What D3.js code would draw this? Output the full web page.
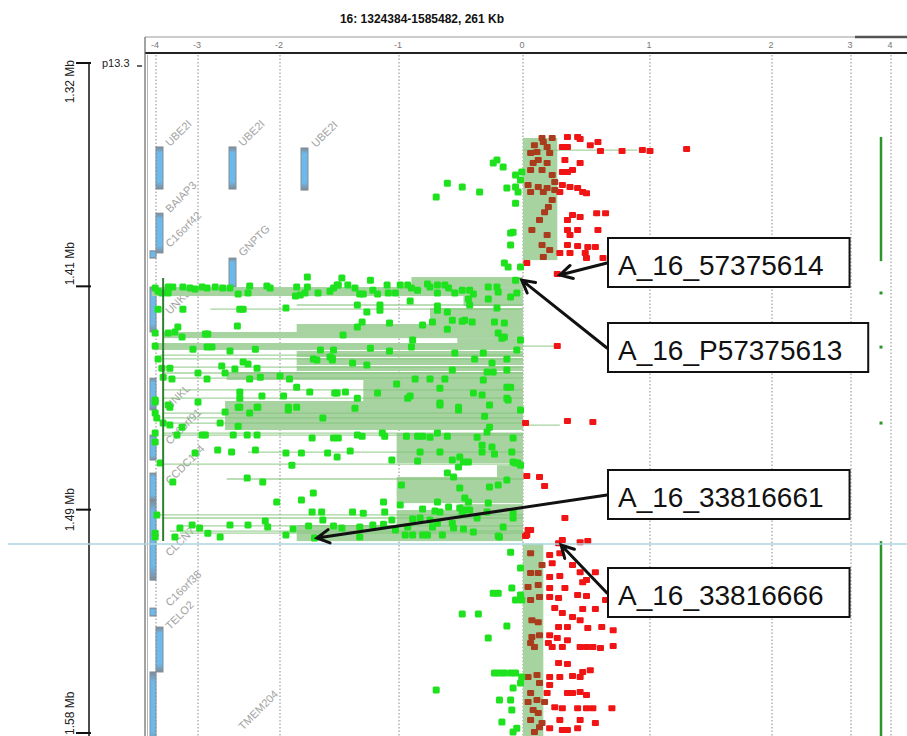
<!DOCTYPE html>
<html>
<head>
<meta charset="utf-8">
<script src="https://cdn.jsdelivr.net/npm/d3@7"></script>
<style>
  body { margin: 0; background: #fff; }
  svg { display: block; font-family: "Liberation Sans", Arial, sans-serif; }
</style>
</head>
<body>
<svg id="chart" width="907" height="736"></svg>
<script>
var title = "16: 1324384-1585482, 261 Kb"
var xTicks = [-4, -3, -2, -1, 0, 1, 2, 3, 4]
var yTickKb = [1324.384, 1411.417, 1498.449, 1585.482]
var yTickLabels = ["1.32 Mb", "1.41 Mb", "1.49 Mb", "1.58 Mb"]
var band = "p13.3"

// probes: [position kb, log ratio]
var probesTop = [
  [1353.6,0.15],[1353.6,0.23],[1353.2,0.35],[1353.2,0.43],[1354.0,0.45],[1356.4,0.53],[1355.2,0.59],
  [1358.7,0.61],[1358.7,0.78],[1358.3,0.94],[1358.7,1.00],[1357.9,1.30],[1357.1,0.31],[1357.1,0.35],
  [1362.2,0.33],[1363.4,0.45],[1366.1,0.39],[1366.9,0.35],[1366.9,0.31],[1371.9,0.31],[1372.7,0.37],
  [1373.1,0.43],[1374.7,0.47],[1375.1,0.50],[1374.7,0.29],[1383.6,0.39],[1384.4,0.45],[1382.9,0.58],
  [1382.9,0.65],[1385.6,0.35],[1389.5,0.35],[1389.5,0.43],[1389.5,0.59],[1391.4,0.37],[1395.3,0.35],
  [1395.7,0.43],[1398.4,0.29],[1398.4,0.37],[1396.1,0.51],[1396.1,0.57],[1398.4,0.49],[1400.4,0.50],
  [1400.4,0.63],[1402.3,0.03],[1406.6,0.27],
  [1355.2,0.16],[1357.1,0.19],[1359.5,0.06],[1359.1,0.11],[1359.5,0.21],[1363.4,0.08],[1363.4,0.19],
  [1366.1,0.06],[1366.1,0.15],[1368.0,0.23],[1371.9,0.04],[1372.7,0.12],[1373.1,0.19],[1373.9,0.25],
  [1374.7,0.06],[1374.7,0.16],[1380.5,0.20],[1382.5,0.17],[1385.6,0.13],[1391.4,0.19],[1395.3,0.15],
  [1397.3,0.21],[1400.0,0.16],[1356.4,0.09],[1377.8,0.23],[1389.5,0.07],[1362.2,0.12],[1370.8,0.25],
  [1363.4,-0.24],[1364.9,-0.16],[1366.9,-0.01],[1368.0,-0.06],[1370.0,-0.02],[1374.7,-0.35],[1373.1,-0.13],
  [1372.7,-0.06],[1374.7,-0.04],[1379.0,-0.06],[1390.6,-0.10],[1390.3,-0.08],[1395.3,-0.10],[1402.3,-0.15],
  [1403.9,-0.12],[1403.9,-0.02],[1371.2,-0.61],[1372.7,-0.49],[1376.6,-0.70],[1362.2,-0.21]
]

var probesLoss = [
  [1412.1,-4.02],[1413.3,-3.95],[1414.0,-3.86],[1411.7,-3.71],[1411.7,-3.60],[1411.7,-3.36],[1412.1,-3.19],
  [1412.5,-3.07],[1411.7,-2.95],[1412.1,-2.89],[1411.7,-2.79],[1412.1,-2.70],[1412.1,-2.61],[1411.3,-2.37],
  [1411.3,-2.16],[1412.1,-2.12],[1411.7,-1.86],[1411.7,-1.77],[1412.1,-1.55],[1410.9,-1.51],[1414.0,-3.71],
  [1414.4,-2.51],[1414.0,-2.39],[1415.2,-1.87],[1414.8,-1.83],[1414.0,-1.79],[1414.0,-1.68],[1413.3,-1.58],
  [1407.8,-1.77],[1420.3,-3.95],[1420.3,-3.36],[1420.3,-2.49],[1420.3,-2.45],[1419.9,-1.95],[1426.9,-2.52],
  [1427.3,-3.48],[1429.6,-4.02],[1429.6,-3.71],[1429.2,-3.55],[1431.2,-3.38],[1430.0,-2.91],[1430.0,-2.88],
  [1434.7,-4.02],[1435.9,-3.12],[1435.1,-2.89],[1435.1,-2.83],[1436.6,-2.61],[1435.9,-2.30],[1436.2,-1.66],
  [1436.2,-1.55],[1439.7,-1.72],[1440.1,-1.69],[1439.0,-1.58],[1440.1,-1.56],[1439.7,-3.95],[1442.5,-2.71],
  [1443.6,-2.55],[1440.9,-2.45],[1441.7,-2.39],[1443.3,-2.28],[1443.3,-3.86],[1443.3,-3.67],[1446.8,-3.83],
  [1447.5,-3.62],[1445.2,-3.00],[1447.5,-2.89],[1445.2,-2.67],[1447.5,-2.37],[1446.8,-2.24],[1446.4,-2.00],
  [1447.5,-1.92],[1450.7,-1.86],[1456.5,-4.02],[1458.5,-3.67],[1456.5,-3.00],[1452.6,-2.49],[1455.0,-2.49],
  [1454.2,-2.22],[1454.2,-1.97],[1452.6,-1.75],[1453.0,-1.54],[1458.5,-2.51],[1458.5,-2.28],[1458.5,-1.93],
  [1458.5,-1.86],
  [1408.2,-1.48],[1410.9,-1.52],[1410.9,-1.43],[1412.1,-1.37],[1414.4,-1.33],[1414.4,-1.30],[1409.0,-1.24],
  [1412.9,-1.22],[1414.4,-1.18],[1410.9,-1.10],[1414.0,-1.09],[1414.0,-1.03],[1410.9,-0.99],[1410.9,-0.93],
  [1412.1,-0.90],[1412.9,-0.85],[1410.5,-0.77],[1411.7,-0.75],[1410.9,-0.69],[1410.9,-0.63],[1412.1,-0.60],
  [1414.0,-0.69],[1414.0,-0.55],[1412.9,-0.49],[1412.9,-0.43],[1414.4,-0.40],[1411.7,-0.28],[1411.7,-0.21],
  [1413.6,-0.20],[1415.6,-0.10],[1414.0,-0.05],[1409.0,-0.06],[1417.1,-0.91],[1416.4,-0.44],[1418.7,-0.43],
  [1416.4,-0.28],[1418.7,-1.35],[1421.4,-1.27],[1418.7,-1.16],[1420.7,-1.16],[1419.1,-0.69],[1420.7,-0.69],
  [1421.4,-0.61],[1425.3,-1.31],[1425.7,-1.08],[1426.5,-0.81],[1425.3,-0.73],[1424.6,-0.57],[1425.0,-0.49],
  [1424.6,-0.47],[1425.3,-0.41],[1425.3,-0.23],[1425.7,-0.15],[1427.3,-1.35],[1428.1,-0.61],[1430.4,-1.47],
  [1432.3,-0.89],[1435.1,-0.90],[1429.6,-0.20],[1431.6,-0.17],[1431.2,-0.15],[1439.4,-1.56],[1435.5,-1.24],
  [1436.6,-1.08],[1437.4,-0.55],[1437.4,-0.32],[1439.7,-0.39],[1441.3,-0.25],[1439.7,-0.13],[1441.3,-1.39],
  [1442.1,-1.27],[1444.0,-0.57],[1444.8,-0.29],[1444.8,-0.24],[1444.0,-0.13],[1447.5,-0.87],[1447.5,-0.75],
  [1447.5,-0.63],[1447.9,-0.32],[1449.5,-1.02],[1451.1,-0.67],[1453.0,-0.40],[1453.8,-0.33],[1450.7,-0.13],
  [1453.0,-1.52],[1452.6,-1.45],[1453.0,-1.18],[1454.2,-0.91],[1455.0,-0.93],[1455.0,-1.35],[1456.9,-0.67],
  [1458.5,-0.52],[1457.7,-0.27],[1455.7,-0.12],
  [1455.7,-4.02],[1457.7,-3.71],[1460.8,-4.02],[1462.7,-3.98],[1464.7,-3.83],[1465.5,-3.67],[1466.3,-3.38],
  [1468.6,-4.02],[1469.4,-3.50],[1469.4,-2.95],[1469.4,-2.91],[1469.4,-2.57],[1469.4,-2.40],[1469.4,-2.28],
  [1458.5,-2.49],[1460.8,-2.37],[1458.5,-2.27],[1465.9,-2.51],[1464.7,-2.73],[1460.4,-2.67],[1459.6,-1.93],
  [1462.7,-1.64],[1470.5,-1.73],[1470.5,-1.55],[1472.1,-4.02],[1476.4,-3.07],[1475.2,-2.76],[1476.0,-2.59],
  [1475.2,-2.30],[1476.4,-1.95],[1476.4,-1.82],[1476.4,-1.60],[1480.3,-3.90],[1481.1,-1.90],[1487.7,-3.60],
  [1486.1,-2.40],[1487.7,-2.21],[1492.0,-1.72],[1494.7,-1.82],[1495.5,-2.04],[1500.5,-3.98],[1499.4,-1.65],
  [1499.4,-1.73],[1502.5,-1.64],[1502.9,-2.18],[1504.4,-2.61],[1504.4,-2.39],[1505.2,-2.15],[1505.6,-3.43],
  [1504.4,-3.14],[1505.6,-2.98],[1506.0,-1.89],[1504.8,-1.76],[1507.6,-4.02],[1509.1,-4.02],[1509.1,-3.55],
  [1507.6,-2.88],[1509.1,-2.73],[1508.3,-1.95],[1509.5,-1.71],
  [1458.9,-1.37],[1457.7,-0.67],[1459.6,-0.52],[1462.0,-0.31],[1466.3,-0.27],[1468.2,-0.29],[1469.4,-1.35],
  [1469.8,-1.31],[1470.5,-1.51],[1468.6,-1.14],[1469.8,-1.12],[1469.8,-0.94],[1469.8,-0.85],[1469.8,-0.81],
  [1470.2,-0.75],[1468.6,-0.69],[1469.8,-0.61],[1470.2,-0.37],[1470.5,-0.08],[1473.3,-0.33],[1474.0,-0.25],
  [1475.6,-1.41],[1476.0,-0.83],[1476.0,-0.67],[1476.0,-0.33],[1476.0,-0.09],[1476.8,-0.23],[1477.9,-1.52],
  [1479.1,-1.06],[1479.5,-0.85],[1477.9,-0.51],[1479.9,-0.48],[1479.9,-0.44],[1479.1,-0.57],[1481.8,-0.52],
  [1479.9,-0.08],[1480.3,-0.04],[1484.2,-0.61],[1485.7,-0.56],[1488.8,-0.98],[1490.0,-0.51],[1489.6,-0.27],
  [1486.9,-0.13],[1493.9,-0.47],[1495.5,-0.44],[1495.9,-0.28],[1495.5,-0.69],[1495.5,-1.13],[1496.6,-0.99],
  [1499.4,-1.39],[1499.8,-1.30],[1499.4,-1.12],[1498.2,-0.81],[1499.0,-0.71],[1497.4,-0.60],[1497.8,-0.51],
  [1499.4,-0.49],[1498.6,-0.47],[1498.6,-0.43],[1499.4,-0.67],[1502.1,-0.89],[1502.5,-1.06],[1501.7,-0.83],
  [1502.5,-0.75],[1503.7,-0.69],[1503.7,-0.57],[1501.7,-0.37],[1499.4,-0.08],[1499.4,-0.29],[1504.8,-1.55],
  [1505.6,-1.48],[1505.2,-1.33],[1504.4,-1.22],[1504.1,-1.13],[1506.4,-1.03],[1508.3,-0.95],[1508.3,-0.89],
  [1508.3,-0.81],[1508.3,-0.77],[1508.3,-0.65],[1506.0,-0.48],[1507.2,-0.40],[1509.1,-0.19],[1505.2,-0.16],
  [1509.1,-1.33],[1505.2,-0.93],[1505.2,-0.73],[1505.6,-0.56],
  [1419.9,-0.21],[1455.0,-0.13],[1450.7,-0.10],[1480.3,-0.06],[1481.1,-0.02],[1488.8,-0.20],[1501.7,-0.08],
  [1436.2,-0.05],[1432.3,-0.02],[1459.6,-0.02],
  [1434.7,0.27],[1463.9,0.35],[1464.3,0.55],[1464.7,0.02],[1485.3,0.03],[1485.7,0.13],[1489.2,0.17],
  [1501.7,0.33],[1506.4,0.04],[1508.7,0.02]
]

var probesBottom = [
  [1508.7,-0.20],[1515.0,-0.10],[1521.2,-0.02],[1531.0,-0.24],[1531.0,-0.20],[1529.0,-0.09],[1533.7,-0.06],
  [1531.7,-0.02],[1533.7,-0.01],[1543.8,-0.13],[1548.5,-0.28],[1562.1,-0.23],[1562.1,-0.19],[1562.1,-0.15],
  [1562.1,-0.10],[1562.1,-0.06],[1563.7,-0.01],[1567.9,-0.08],[1566.0,-0.02],[1572.6,-0.19],[1572.6,-0.10],
  [1576.5,-0.09],[1581.2,-0.17],[1585.1,-0.08],[1583.6,-0.05],[1568.7,-0.70],[1539.1,-0.36],[1539.1,-0.49],
  [1506.4,0.06],[1508.3,0.03],[1510.3,0.31],[1511.5,0.28],[1511.1,0.45],[1510.7,0.51],[1515.4,0.06],
  [1516.1,0.21],[1515.4,0.29],[1520.0,0.15],[1519.3,0.23],[1520.0,0.39],[1522.8,0.45],[1522.8,0.57],
  [1523.1,0.06],[1523.1,0.12],[1524.7,0.21],[1524.3,0.29],[1526.7,0.47],[1525.9,0.50],[1528.6,0.04],
  [1527.8,0.12],[1529.0,0.21],[1529.0,0.33],[1532.5,0.13],[1532.5,0.21],[1532.9,0.28],[1531.7,0.43],
  [1532.1,0.50],[1533.7,0.65],[1533.7,0.06],[1536.8,0.25],[1538.7,0.31],[1540.3,0.39],[1537.2,0.47],
  [1537.2,0.57],[1541.5,0.45],[1541.5,0.07],[1542.3,0.12],[1544.2,0.28],[1544.2,0.35],[1544.6,0.51],
  [1544.2,0.62],[1545.4,0.71],[1548.1,0.07],[1547.4,0.13],[1547.4,0.21],[1548.5,0.27],[1549.3,0.35],
  [1550.4,0.20],[1550.4,0.06],[1552.0,0.09],[1552.0,0.23],[1552.0,0.31],[1552.0,0.45],[1552.0,0.50],
  [1552.0,0.55],[1552.4,0.61],[1551.6,0.71],[1558.2,0.28],[1558.6,0.35],[1561.7,0.47],[1561.0,0.53],
  [1563.7,0.21],[1563.7,0.29],[1563.3,0.39],[1563.7,0.45],[1563.7,0.04],[1562.9,0.11],[1566.0,0.13],
  [1566.8,0.21],[1569.9,0.35],[1569.9,0.39],[1569.5,0.45],[1570.7,0.50],[1569.9,0.19],[1569.9,0.06],
  [1572.6,0.11],[1573.4,0.04],[1573.4,0.17],[1575.4,0.25],[1575.8,0.31],[1575.8,0.43],[1575.8,0.50],
  [1575.8,0.55],[1575.8,0.70],[1576.5,0.08],[1577.7,0.12],[1580.4,0.06],[1581.6,0.15],[1580.4,0.29],
  [1580.4,0.45],[1581.6,0.57],[1583.6,0.21],[1584.3,0.31],[1584.3,0.35],[1583.6,0.43],[1585.1,0.09],
  [1583.2,0.13]
]

// aberration segments: [start kb, end kb, mean ratio]
var segments = [
  [1353.6,1401.2,0.27],[1511.8,1590,0.16],
  [1407.8,1411.7,-0.90],[1411.7,1415.2,-4.10],[1415.2,1419.1,-0.48],[1419.9,1426.1,-0.75],
  [1426.1,1429.2,-1.86],[1429.2,1431.6,-3.83],[1431.6,1433.5,-0.53],[1433.5,1436.2,-4.07],
  [1436.6,1439.0,-1.86],[1439.4,1442.1,-1.86],[1442.5,1444.4,-1.86],[1444.8,1447.9,-2.65],
  [1447.9,1456.1,-1.30],[1456.1,1467.4,-2.67],[1468.6,1480.3,-1.02],[1481.1,1485.7,-0.21],
  [1485.7,1495.9,-1.02],[1496.3,1498.6,-0.51],[1498.6,1504.4,-1.02],[1504.4,1510.7,-1.86]
]
// single probe intervals drawn as thin lines: [kb, ratio]
var segmentLines = [
  [1358.3,0.90],[1434.7,0.29],[1465.5,0.29],
  [1418.7,-1.86],[1420.3,-2.85],[1438.2,-3.90],[1439.7,-3.90],[1442.9,-3.90],[1445.2,-3.83],
  [1447.2,-3.83],[1451.8,-3.83],[1455.0,-3.83],[1460.8,-3.83],[1462.7,-3.83],[1464.7,-3.83],
  [1468.6,-3.83],[1469.4,-3.83],[1476.0,-2.39],[1480.7,-3.98],[1486.5,-2.65],[1500.5,-3.98],
  [1501.7,-3.83],[1504.8,-3.36],[1506.8,-3.67],[1507.6,-3.43]
]
var lossEdge = [1408.2, 1510.7, -3.83]

// summary track at the right: spans and single calls (kb)
var callSpans = [[1353.2, 1401.6], [1510.7, 1590]]
var callDots = [1414.0, 1435.1, 1464.7]

// genes: [name, start kb, end kb, lane]
var genes = [
  ["UBE2I",1357.1,1373.5,1],["UBE2I",1357.1,1373.5,2],["UBE2I",1357.5,1373.9,3],
  ["BAIAP3",1382.9,1398.4,1],["C16orf42",1397.6,1400.4,0],["GNPTG",1400.4,1412.5,2],
  ["UNKL",1411.7,1429.2,0],["UNKL",1447.2,1459.6,0],["C16orf91",1469.4,1479.1,0],
  ["CCDC154",1484.2,1494.7,0],["CLCN7",1494.7,1525.9,0],["C16orf38",1536.8,1539.9,0],
  ["TELO2",1544.2,1561.7,1],["TMEM204",1561.7,1590,0]
]
// gene labels: [name, kb, column]
var geneLabels = [
  ["UBE2I",1357.1,1],["UBE2I",1357.1,2],["UBE2I",1357.5,3],["BAIAP3",1382.9,1],
  ["C16orf42",1396.5,1],["GNPTG",1400.0,2],["UNKL",1422.6,1],["UNKL",1459.6,1],
  ["C16orf91",1473.3,1],["CCDC154",1488.8,1],["CLCN7",1516.9,1],["C16orf38",1536.4,1],
  ["TELO2",1545.4,1],["TMEM204",1584.6,2]
]

var callouts = [
  {id: "A_16_57375614", kb: 1407.0, ratio: 0.29, top: 238},
  {id: "A_16_P57375613", kb: 1409.0, ratio: -0.01, top: 323},
  {id: "A_16_33816661", kb: 1509.5, ratio: -1.69, top: 470},
  {id: "A_16_33816666", kb: 1512.2, ratio: 0.30, top: 568}
]

var svg = d3.select("#chart")
var frameLeft = 145, frameRight = 907, plotTop = 55, plotBottom = 736

var x = d3.scaleLinear().domain(xTicks).range([156, 198, 280, 399, 523, 650, 772, 851, 891])
var y = d3.scaleLinear().domain([yTickKb[0], yTickKb[3]]).range([63, 733])
var laneX = d3.scaleOrdinal().domain([0, 1, 2, 3]).range([150, 156, 229, 301])
var labelX = d3.scaleOrdinal().domain([0, 1, 2, 3]).range([170, 170, 243, 316])

var defs = svg.append("defs")
var grad = defs.append("linearGradient").attr("id", "gene").attr("x1", 0).attr("x2", 0).attr("y1", 0).attr("y2", 1)
grad.append("stop").attr("offset", "0%").attr("stop-color", "#7f8b96")
grad.append("stop").attr("offset", "14%").attr("stop-color", "#6cb9ec")
grad.append("stop").attr("offset", "82%").attr("stop-color", "#6cb9ec")
grad.append("stop").attr("offset", "100%").attr("stop-color", "#7f8b96")
defs.append("clipPath").attr("id", "plot").append("rect")
  .attr("x", frameLeft + 2).attr("y", plotTop).attr("width", frameRight - frameLeft).attr("height", plotBottom - plotTop)

// title
svg.append("text").attr("x", 422).attr("y", 23).attr("text-anchor", "middle")
  .style("font-size", "12px").style("font-weight", "bold").attr("fill", "#111").text(title)

// header lines and tick labels
svg.append("line").attr("x1", frameLeft).attr("x2", frameRight).attr("y1", 37).attr("y2", 37)
  .attr("stroke", "#999").attr("stroke-width", 1)
svg.append("line").attr("x1", 855).attr("x2", frameRight).attr("y1", 37).attr("y2", 37)
  .attr("stroke", "#555").attr("stroke-width", 2.5)
svg.append("line").attr("x1", frameLeft).attr("x2", frameRight).attr("y1", 53).attr("y2", 53)
  .attr("stroke", "#222").attr("stroke-width", 2)
svg.selectAll(".xlab").data(xTicks).enter().append("text")
  .attr("x", function(d) { return x(d) - 1 }).attr("y", 48).attr("text-anchor", "middle")
  .style("font-size", "9px").attr("fill", "#777").text(function(d) { return d })

// dotted grid
svg.selectAll(".grid").data(xTicks).enter().append("line")
  .attr("x1", function(d) { return x(d) }).attr("x2", function(d) { return x(d) })
  .attr("y1", plotTop).attr("y2", plotBottom)
  .attr("stroke", "#8a8a8a").attr("stroke-width", 1).attr("stroke-dasharray", "1.5,2")

var plot = svg.append("g").attr("clip-path", "url(#plot)")

// genes
plot.selectAll(".gene").data(genes).enter().append("rect")
  .attr("x", function(d) { return laneX(d[3]) })
  .attr("y", function(d) { return y(d[1]) })
  .attr("width", function(d) { return d[3] === 0 ? 6 : 7 })
  .attr("height", function(d) { return y(d[2]) - y(d[1]) })
  .attr("fill", "url(#gene)").attr("stroke", "#858d95").attr("stroke-width", 1)
plot.selectAll(".glab").data(geneLabels).enter().append("text")
  .attr("transform", function(d) { return "translate(" + labelX(d[2]) + "," + y(d[1]) + ") rotate(-45)" })
  .style("font-size", "11px").attr("fill", "#a2a2a2").text(function(d) { return d[0] })

var probes = probesTop.concat(probesLoss, probesBottom)
var gains = probes.filter(function(d) { return d[1] > 0 })
var losses = probes.filter(function(d) { return d[1] <= 0 })

// a gain probe that falls inside a called gain segment is drawn darker
function inGainCall(d) {
  return segments.some(function(s) { return s[2] > 0 && d[0] >= s[0] && d[0] <= s[1] && d[1] <= s[2] + 0.01 })
}

// segments
plot.selectAll(".seg").data(segments).enter().append("rect")
  .attr("x", function(d) { return Math.min(x(0), x(d[2])) })
  .attr("width", function(d) { return Math.abs(x(d[2]) - x(0)) })
  .attr("y", function(d) { return y(d[0]) })
  .attr("height", function(d) { return y(d[1]) - y(d[0]) })
  .attr("fill", "#a6d3a0")
plot.selectAll(".segline").data(segmentLines).enter().append("line")
  .attr("x1", x(0)).attr("x2", function(d) { return x(d[1]) })
  .attr("y1", function(d) { return y(d[0]) }).attr("y2", function(d) { return y(d[0]) })
  .attr("stroke", "#86c47e").attr("stroke-opacity", 0.75).attr("stroke-width", 1.3)

// red probes
plot.selectAll(".gain").data(gains).enter().append("rect")
  .attr("x", function(d) { return x(d[1]) - 3.5 }).attr("y", function(d) { return y(d[0]) - 3 })
  .attr("width", 7).attr("height", 6).attr("rx", 1)
  .attr("fill", function(d) { return inGainCall(d) ? "#a83c1c" : "#f01414" })

// green probes
plot.selectAll(".loss").data(losses).enter().append("rect")
  .attr("x", function(d) { return x(d[1]) - 3.5 }).attr("y", function(d) { return y(d[0]) - 3.5 })
  .attr("width", 7).attr("height", 7).attr("rx", 1.5).attr("fill", "#1ee21e")

plot.append("line").attr("x1", x(lossEdge[2])).attr("x2", x(lossEdge[2]))
  .attr("y1", y(lossEdge[0])).attr("y2", y(lossEdge[1]))
  .attr("stroke", "#2f7f2f").attr("stroke-width", 2)

// right summary track
var trackX = x(3.75)
plot.selectAll(".span").data(callSpans).enter().append("line")
  .attr("x1", trackX).attr("x2", trackX)
  .attr("y1", function(d) { return y(d[0]) }).attr("y2", function(d) { return y(d[1]) })
  .attr("stroke", "#2a962a").attr("stroke-width", 2.5)
plot.selectAll(".cdot").data(callDots).enter().append("rect")
  .attr("x", trackX - 1.5).attr("y", function(d) { return y(d) - 1.5 })
  .attr("width", 3).attr("height", 3).attr("fill", "#2a962a")

// frame
svg.append("line").attr("x1", frameLeft).attr("x2", frameLeft).attr("y1", 37).attr("y2", plotBottom)
  .attr("stroke", "#666").attr("stroke-width", 1.2)
svg.append("line").attr("x1", frameLeft + 2.5).attr("x2", frameLeft + 2.5).attr("y1", plotTop).attr("y2", plotBottom)
  .attr("stroke", "#b5b5b5").attr("stroke-width", 1)

// left position axis
svg.append("line").attr("x1", 89).attr("x2", 89).attr("y1", y(yTickKb[0])).attr("y2", plotBottom)
  .attr("stroke", "#111").attr("stroke-width", 1.5)
svg.selectAll(".ytick").data(yTickKb).enter().append("line")
  .attr("x1", 76).attr("x2", 91).attr("y1", function(d) { return y(d) }).attr("y2", function(d) { return y(d) })
  .attr("stroke", "#111").attr("stroke-width", 2)
var anchors = ["end", "start", "middle", "start"]
var shifts = [-3, -1, 0, 2]
svg.selectAll(".ylab").data(yTickKb).enter().append("text")
  .attr("transform", function(d, i) { return "translate(74," + (y(d) + shifts[i]) + ") rotate(-90)" })
  .attr("text-anchor", function(d, i) { return anchors[i] })
  .style("font-size", "12px").attr("fill", "#222").text(function(d, i) { return yTickLabels[i] })
svg.append("text").attr("x", 102).attr("y", 67).style("font-size", "11px").attr("fill", "#222").text(band)
svg.append("line").attr("x1", 137).attr("x2", 142).attr("y1", 66).attr("y2", 66).attr("stroke", "#333").attr("stroke-width", 1.5)

// cursor line
svg.append("line").attr("x1", 8).attr("x2", frameRight).attr("y1", 544).attr("y2", 544)
  .attr("stroke", "#a9d6de").attr("stroke-width", 1.5)

// callouts
var boxX = 608
callouts.forEach(function(c) {
  var g = svg.append("g")
  var t = g.append("text").attr("x", boxX + 10).attr("y", c.top + 37)
    .style("font-size", "28px").attr("fill", "#111").text(c.id)
  var w = t.node().getComputedTextLength()
  g.insert("rect", "text").attr("x", boxX).attr("y", c.top).attr("width", w + 36).attr("height", 49)
    .attr("fill", "#fff").attr("stroke", "#111").attr("stroke-width", 2)
  var sx = boxX - 1, sy = c.top + 25
  var ex = x(c.ratio), ey = y(c.kb)
  var a = Math.atan2(sy - ey, sx - ex)
  var len = 14, spread = 0.5
  g.append("path")
    .attr("d", "M" + sx + "," + sy + "L" + ex + "," + ey +
      "M" + (ex + len * Math.cos(a + spread)) + "," + (ey + len * Math.sin(a + spread)) +
      "L" + ex + "," + ey +
      "L" + (ex + len * Math.cos(a - spread)) + "," + (ey + len * Math.sin(a - spread)))
    .attr("fill", "none").attr("stroke", "#111").attr("stroke-width", 3)
    .attr("stroke-linejoin", "miter").attr("stroke-linecap", "round")
})
</script>
</body>
</html>
